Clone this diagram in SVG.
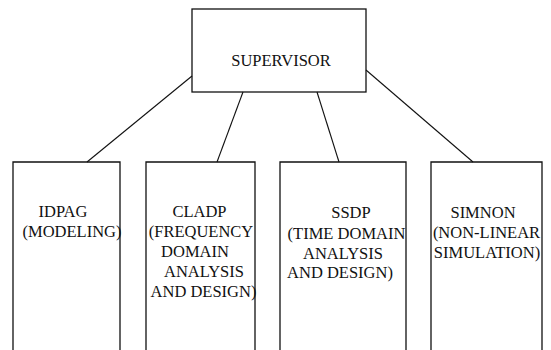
<svg xmlns="http://www.w3.org/2000/svg" width="551" height="350" viewBox="0 0 551 350">
<style>
.box{fill:none;stroke:#111;stroke-width:1.3}
.con{stroke:#111;stroke-width:1.1;fill:none}
.t{font-family:'Liberation Serif','DejaVu Serif',serif;font-size:16.5px;fill:#111;text-anchor:middle}
</style>
<rect width="551" height="350" fill="#fff"/>
<g id="connectors">
<line class="con" x1="192" y1="76" x2="87" y2="162"/>
<line class="con" x1="243" y1="92" x2="217" y2="162"/>
<line class="con" x1="317" y1="92" x2="339" y2="162"/>
<line class="con" x1="366" y1="70" x2="473" y2="162"/>
</g>
<g id="supervisor">
<rect class="box" x="192" y="9" width="174" height="83"/>
<text class="t" font-family="Liberation Serif, serif" x="281" y="66">SUPERVISOR</text>
</g>
<g id="idpag" class="t" font-family="Liberation Serif, serif">
<path class="box" d="M13 350V162H120V350"/>
<text x="63" y="217">IDPAG</text>
<text x="72" y="237">(MODELING)</text>
</g>
<g id="cladp" class="t" font-family="Liberation Serif, serif">
<path class="box" d="M146 350V162H255V350"/>
<text x="199.5" y="217">CLADP</text>
<text x="201" y="237">(FREQUENCY</text>
<text x="195" y="257">DOMAIN</text>
<text x="204" y="277">ANALYSIS</text>
<text x="203.5" y="297">AND DESIGN)</text>
</g>
<g id="ssdp" class="t" font-family="Liberation Serif, serif">
<path class="box" d="M280 350V162H406V350"/>
<text x="351" y="218">SSDP</text>
<text x="346.5" y="239">(TIME DOMAIN</text>
<text x="343" y="259">ANALYSIS</text>
<text x="340" y="278">AND DESIGN)</text>
</g>
<g id="simnon" class="t" font-family="Liberation Serif, serif">
<path class="box" d="M431 350V162H542V350"/>
<text x="483" y="218">SIMNON</text>
<text x="486.5" y="238">(NON-LINEAR</text>
<text x="487" y="258">SIMULATION)</text>
</g>
</svg>
